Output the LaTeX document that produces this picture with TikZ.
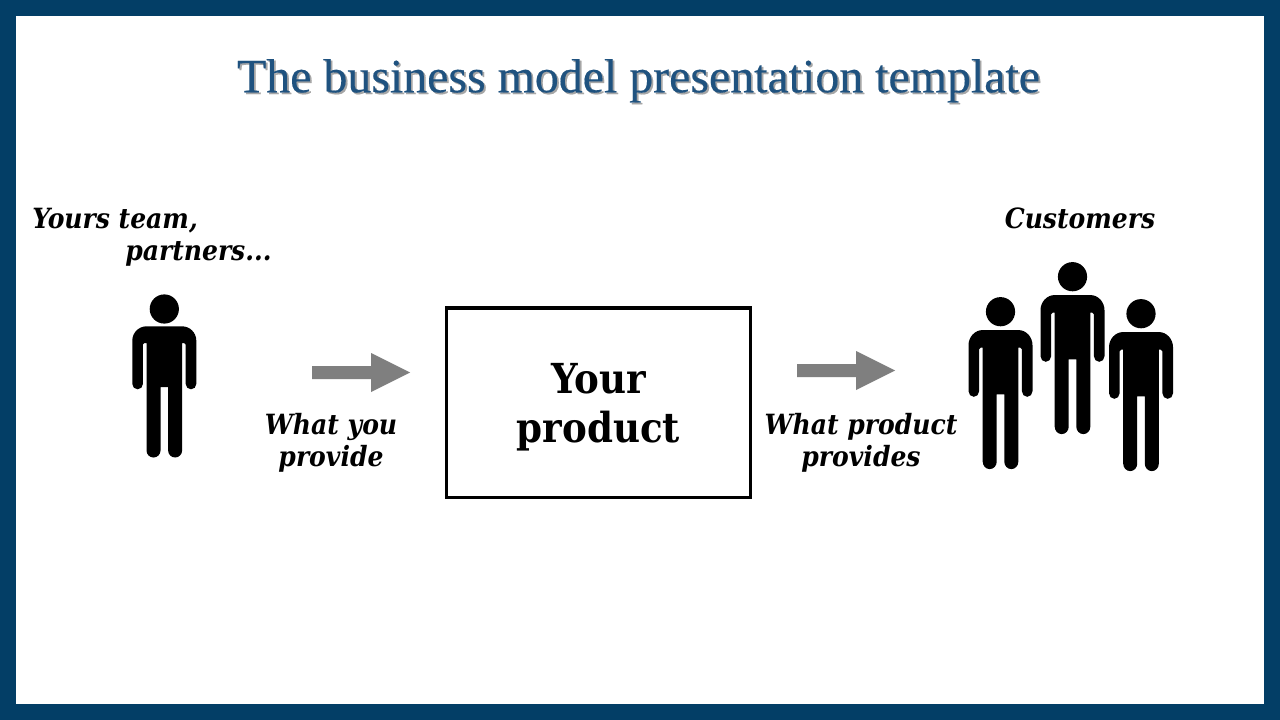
\documentclass[tikz,border=0pt]{standalone}
\usepackage{fontspec}
\setmainfont{DejaVu Serif}
\newfontfamily\titlefont[FakeBold=0.3]{Liberation Serif}
\newfontfamily\labelfont{DejaVu Serif Condensed}
\definecolor{frameblue}{HTML}{033E66}
\definecolor{titleblue}{HTML}{1F527F}
\definecolor{arrowgray}{HTML}{7F7F7F}
\tikzset{
  x=0.75pt,y=-0.75pt,
  lab/.style={font=\labelfont\bfseries\itshape\fontsize{20.9}{24}\selectfont,align=center,inner sep=0pt,text=black},
  prod/.style={draw=black,line width=2.5pt,minimum width=228pt,minimum height=142pt,inner sep=0pt,align=center,font=\labelfont\bfseries\fontsize{31}{36.5}\selectfont},
  ttl/.style={inner sep=0pt,font=\titlefont\fontsize{35.9}{40}\selectfont},
  head/.pic={\fill[black] (0,0) circle[radius=14.6];},
  body/.pic={
    \fill[black]
      (-17.7,17.3) arc[start angle=270,end angle=180,radius=14.3] -- (-32,75)
      arc[start angle=180,end angle=0,radius=5.3] -- (-21.4,35.5)
      arc[start angle=180,end angle=270,radius=1.5] -- (-17.8,34) -- (-17.8,141.5)
      arc[start angle=180,end angle=0,radius=7] -- (-3.8,78) -- (3.8,78) -- (3.8,141.5)
      arc[start angle=180,end angle=0,radius=7] -- (17.8,34) -- (19.9,34)
      arc[start angle=270,end angle=360,radius=1.5] -- (21.4,75)
      arc[start angle=180,end angle=0,radius=5.3] -- (32,31.6)
      arc[start angle=0,end angle=-90,radius=14.3] -- cycle;
  },
}
\begin{document}
\begin{tikzpicture}
\useasboundingbox (0,0) rectangle (1280,720);
\fill[frameblue] (0,0) rectangle (1280,720);
\fill[white] (16,16) rectangle (1264,704);
\node[ttl,text=black!35] at (640.3,82.5) {The business model presentation template};
\node[ttl,text=titleblue] (title) at (638.5,80.8) {The business model presentation template};
\node[prod] (product) at (598.5,402.5) {\rule{0pt}{30pt}Your\\product};
\node[lab,anchor=base west] (team) at (32,228.5) {Yours team,};
\node[lab,anchor=base west] (partners) at (125,260.5) {partners...};
\node[lab] (cust) at (1080,218) {Customers};
\node[lab] (wyp) at (331,442.5) {What you\\provide};
\node[lab] (wpp) at (861,442.5) {What product\\provides};
\pic at (164.3,309) {head};
\pic at (164.3,309) {body};
\pic at (1000.5,311.7) {head};
\pic[yscale=1.06] at (1000.5,311.7) {body};
\pic at (1072.5,276.7) {head};
\pic[yscale=1.06] at (1072.5,276.7) {body};
\pic at (1141,313.7) {head};
\pic[yscale=1.06] at (1141,313.7) {body};
\fill[arrowgray] (312,366) -- (371,366) -- (371,353) -- (410,372.5) -- (371,392) -- (371,379) -- (312,379) -- cycle;
\fill[arrowgray] (797,364) -- (856,364) -- (856,351) -- (895,370.5) -- (856,390) -- (856,377) -- (797,377) -- cycle;
\end{tikzpicture}
\end{document}
